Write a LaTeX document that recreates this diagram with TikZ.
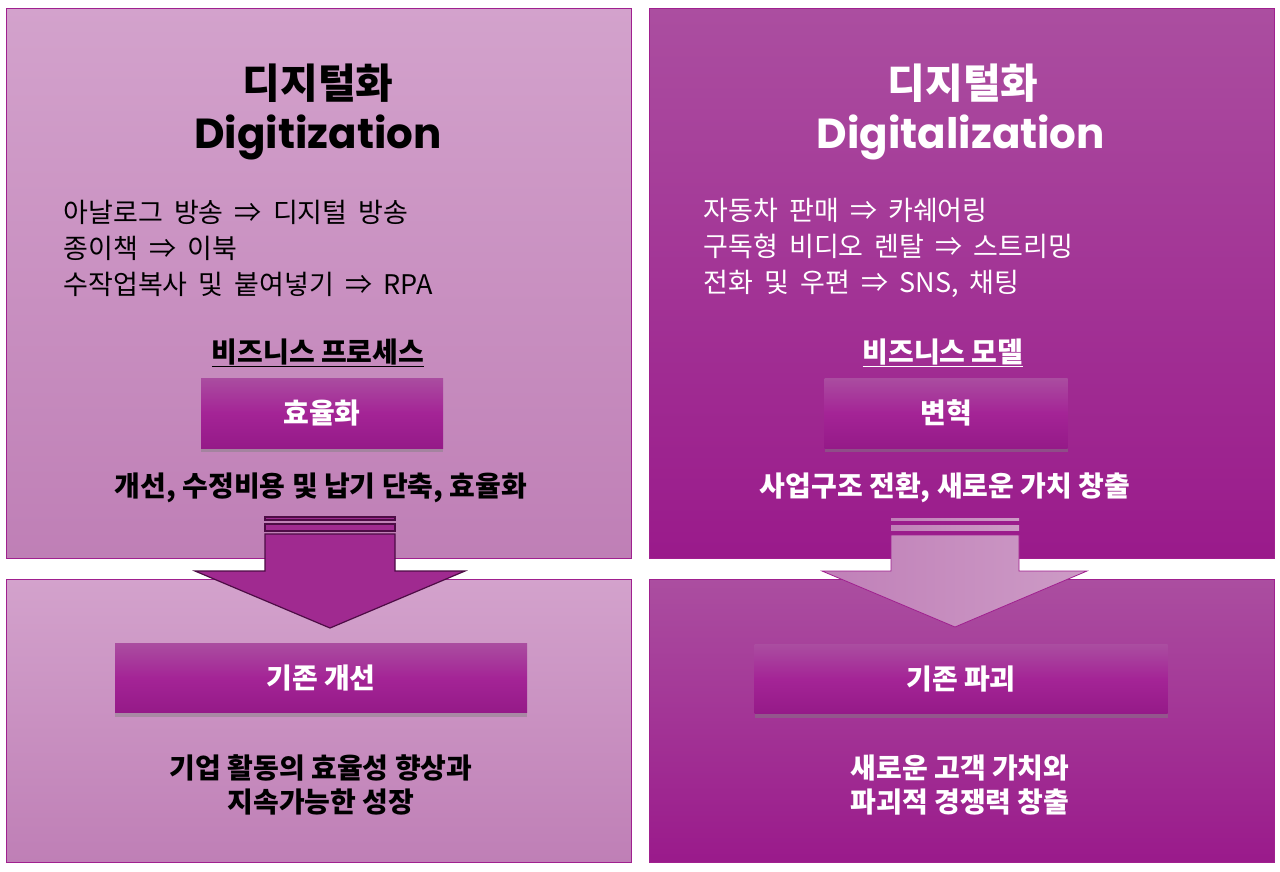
\documentclass[tikz,border=0pt]{standalone}
\usepackage{fontspec}
\setmainfont{Noto Sans CJK KR}
\newfontfamily\latinfont{Poppins}
\newfontfamily\listfont{Noto Sans CJK KR}[WordSpace=1.85]
\usetikzlibrary{positioning, shadows}
\definecolor{lilacTop}{HTML}{D3A2CC}
\definecolor{lilacBot}{HTML}{BF7FB6}
\definecolor{plumTop}{HTML}{AB4EA0}
\definecolor{plumBot}{HTML}{9A1A8B}
\definecolor{plumEdge}{HTML}{A0208F}
\definecolor{btnTop}{HTML}{AA4DA0}
\definecolor{btnMid}{HTML}{A42496}
\definecolor{btnBot}{HTML}{951A88}
\definecolor{arrowDark}{HTML}{4D0C45}
\definecolor{arrowFill}{HTML}{A02A90}
\definecolor{paleLeft}{HTML}{C080B8}
\definecolor{paleRight}{HTML}{CD9BC6}
\tikzset{panel/.style={draw=plumEdge,line width=1pt,inner sep=0pt,minimum width=625pt},
  btn/.style={inner sep=0pt,text=white,font=\bfseries\fontsize{28}{32}\selectfont,
    top color=btnTop,bottom color=btnBot,middle color=btnMid,
    drop shadow={shadow xshift=0pt,shadow yshift=-4pt,opacity=0.45}},
  titleko/.style={font=\bfseries\fontsize{41}{46}\selectfont},
  titleen/.style={font=\latinfont\bfseries\fontsize{42}{46}\selectfont},
  listtext/.style={anchor=west,align=left,font=\listfont\fontsize{27}{36}\selectfont},
  subhead/.style={font=\bfseries\fontsize{28}{32}\selectfont},
  sumtext/.style={font=\bfseries\fontsize{28}{32}\selectfont},
  endtext/.style={align=center,font=\bfseries\fontsize{28}{34}\selectfont}}

\begin{document}
\begin{tikzpicture}[x=1pt, y=-1pt]
  \useasboundingbox[fill=white] (0,0) rectangle (1280,871);

  % four panels
  \node[panel, minimum height=550pt, top color=lilacTop, bottom color=lilacBot] (upL) at (318.5,283) {};
  \node[panel, minimum height=283pt, top color=lilacTop, bottom color=lilacBot] (lowL) at (318.5,720.5) {};
  \node[panel, minimum height=550pt, top color=plumTop, bottom color=plumBot] (upR) at (961.5,283) {};
  \node[panel, minimum height=283pt, top color=plumTop, bottom color=plumBot] (lowR) at (961.5,720.5) {};

  % left block arrow
  \draw[arrowDark, line width=1.2pt, fill=arrowFill] (265,517) rectangle (395,520);
  \draw[arrowDark, line width=1.2pt, fill=arrowFill] (265,524) rectangle (395,531);
  \draw[arrowDark, line width=1.2pt, fill=arrowFill]
    (265,534) -- (395,534) -- (395,571) -- (465,571) -- (330,628)
    -- (195,571) -- (265,571) -- cycle;

  % right block arrow
  \fill[left color=paleLeft, right color=paleRight] (891,518) rectangle (1019,520.5);
  \fill[left color=paleLeft, right color=paleRight] (891,525) rectangle (1019,530.5);
  \draw[plumEdge, line width=0.8pt, left color=paleLeft, right color=paleRight]
    (891,535) -- (1019,535) -- (1019,571) -- (1087,571) -- (955,627)
    -- (822,571) -- (891,571) -- cycle;

  \node[titleko] (koL) at (318,83) {디지털화};
  \node[titleen] (enL) at (318,137) {Digitization};
  \node[listtext] (listL) at (60,248) {아날로그 방송 ⇒ 디지털 방송\\종이책 ⇒ 이북\\수작업복사 및 붙여넣기 ⇒ RPA};
  \node[subhead] (procL) at (318,353) {\underline{비즈니스 프로세스}};
  \node[btn, minimum width=242pt, minimum height=70pt] (effL) at (322,413) {효율화};
  \node[sumtext] (sumL) at (321,488) {개선, 수정비용 및 납기 단축, 효율화};
  \node[btn, minimum width=412pt, minimum height=69pt] (keepL) at (321,678) {기존 개선};
  \node[endtext] (endL) at (321,785) {기업 활동의 효율성 향상과\\지속가능한 성장};

  \begin{scope}[text=white]
    \node[titleko] (koR) at (963,83) {디지털화};
    \node[titleen] (enR) at (961,137) {Digitalization};
    \node[listtext] (listR) at (700,248) {자동차 판매 ⇒ 카쉐어링\\구독형 비디오 렌탈 ⇒ 스트리밍\\전화 및 우편 ⇒ SNS, 채팅};
    \node[subhead] (procR) at (943,353) {\underline{비즈니스 모델}};
    \node[btn, minimum width=243pt, minimum height=70pt] (chgR) at (946,413) {변혁};
    \node[sumtext] (sumR) at (945,488) {사업구조 전환, 새로운 가치 창출};
    \node[btn, minimum width=413pt, minimum height=69pt] (breakR) at (961,679) {기존 파괴};
    \node[endtext] (endR) at (960,785) {새로운 고객 가치와\\파괴적 경쟁력 창출};
  \end{scope}
\end{tikzpicture}
\end{document}
